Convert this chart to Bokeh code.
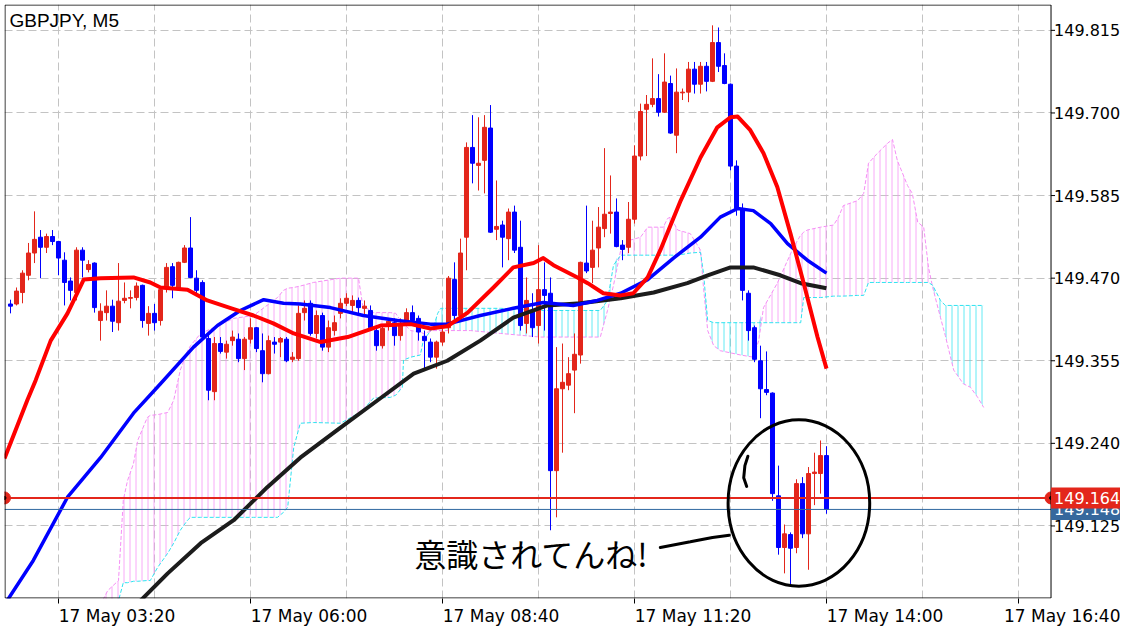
import numpy as np
from bokeh.plotting import figure
from bokeh.models import Range1d, FixedTicker, Label
from bokeh.embed import file_html
from bokeh.resources import INLINE
from bokeh.core.properties import value

# ---------------- data ----------------
symbol_title = "GBPJPY, M5"
time_ticks = [8, 40, 72, 104, 136, 168]          # bar index of labelled times
time_labels = ["17 May 03:20", "17 May 06:00", "17 May 08:40",
               "17 May 11:20", "17 May 14:00", "17 May 16:40"]
price_ticks = [149.125, 149.240, 149.355, 149.470, 149.585, 149.700, 149.815]

opens = [149.434, 149.434, 149.450, 149.474, 149.505, 149.527, 149.513, 149.528, 149.521, 149.495,
         149.466, 149.450, 149.509, 149.482, 149.491, 149.411, 149.422, 149.431, 149.408, 149.439,
         149.442, 149.443, 149.460, 149.407, 149.421, 149.411, 149.456, 149.486, 149.454, 149.492,
         149.512, 149.470, 149.464, 149.386, 149.312, 149.379, 149.367, 149.383, 149.385, 149.358,
         149.385, 149.401, 149.369, 149.337, 149.381, 149.381, 149.385, 149.357, 149.358, 149.422,
         149.435, 149.393, 149.418, 149.374, 149.397, 149.421, 149.435, 149.432, 149.439, 149.428,
         149.425, 149.397, 149.376, 149.407, 149.408, 149.390, 149.408, 149.422, 149.414, 149.389,
         149.381, 149.360, 149.381, 149.401, 149.468, 149.418, 149.527, 149.652, 149.627, 149.634,
         149.679, 149.538, 149.544, 149.525, 149.562, 149.513, 149.407, 149.425, 149.404, 149.454,
         149.449, 149.202, 149.316, 149.321, 149.342, 149.363, 149.491, 149.485, 149.512, 149.539,
         149.560, 149.562, 149.516, 149.513, 149.552, 149.640, 149.705, 149.712, 149.720, 149.701,
         149.741, 149.669, 149.728, 149.729, 149.761, 149.740, 149.765, 149.744, 149.798, 149.766,
         149.740, 149.626, 149.567, 149.449, 149.401, 149.355, 149.315, 149.310, 149.167, 149.095,
         149.113, 149.095, 149.184, 149.114, 149.198, 149.198, 149.223]
highs = [149.440, 149.457, 149.481, 149.519, 149.563, 149.537, 149.532, 149.537, 149.522, 149.506,
         149.471, 149.513, 149.513, 149.495, 149.492, 149.435, 149.453, 149.440, 149.491, 149.464,
         149.453, 149.464, 149.461, 149.431, 149.434, 149.457, 149.491, 149.491, 149.493, 149.516,
         149.555, 149.481, 149.467, 149.393, 149.388, 149.388, 149.383, 149.397, 149.393, 149.388,
         149.414, 149.402, 149.393, 149.390, 149.388, 149.388, 149.388, 149.367, 149.432, 149.439,
         149.439, 149.425, 149.422, 149.411, 149.418, 149.442, 149.449, 149.446, 149.443, 149.439,
         149.432, 149.404, 149.404, 149.414, 149.414, 149.414, 149.428, 149.432, 149.418, 149.397,
         149.386, 149.383, 149.400, 149.473, 149.492, 149.525, 149.659, 149.697, 149.694, 149.697,
         149.711, 149.606, 149.550, 149.567, 149.571, 149.550, 149.471, 149.449, 149.516, 149.492,
         149.471, 149.374, 149.379, 149.360, 149.393, 149.493, 149.571, 149.550, 149.569, 149.651,
         149.613, 149.581, 149.523, 149.576, 149.655, 149.713, 149.725, 149.776, 149.754, 149.783,
         149.752, 149.762, 149.734, 149.771, 149.771, 149.771, 149.771, 149.822, 149.819, 149.783,
         149.741, 149.634, 149.574, 149.453, 149.404, 149.376, 149.368, 149.311, 149.209, 149.127,
         149.116, 149.190, 149.193, 149.207, 149.227, 149.244, 149.236]
lows = [149.421, 149.432, 149.435, 149.467, 149.491, 149.470, 149.505, 149.516, 149.474, 149.432,
        149.439, 149.439, 149.471, 149.478, 149.422, 149.383, 149.411, 149.395, 149.397, 149.435,
        149.428, 149.439, 149.401, 149.390, 149.397, 149.404, 149.450, 149.442, 149.453, 149.491,
        149.470, 149.449, 149.386, 149.300, 149.300, 149.365, 149.358, 149.376, 149.353, 149.342,
        149.379, 149.367, 149.325, 149.336, 149.365, 149.360, 149.353, 149.353, 149.355, 149.411,
        149.390, 149.386, 149.369, 149.367, 149.390, 149.414, 149.431, 149.422, 149.418, 149.418,
        149.397, 149.369, 149.372, 149.397, 149.376, 149.383, 149.404, 149.404, 149.383, 149.342,
        149.353, 149.344, 149.376, 149.393, 149.411, 149.411, 149.481, 149.602, 149.592, 149.588,
        149.533, 149.523, 149.485, 149.495, 149.505, 149.397, 149.393, 149.388, 149.379, 149.397,
        149.119, 149.137, 149.227, 149.314, 149.282, 149.351, 149.477, 149.463, 149.485, 149.527,
        149.532, 149.513, 149.495, 149.505, 149.546, 149.634, 149.640, 149.708, 149.695, 149.700,
        149.671, 149.644, 149.718, 149.715, 149.727, 149.727, 149.730, 149.743, 149.757, 149.740,
        149.620, 149.557, 149.439, 149.383, 149.353, 149.275, 149.307, 149.160, 149.085, 149.059,
        149.042, 149.087, 149.108, 149.064, 149.154, 149.170, 149.142]
closes = [149.431, 149.452, 149.477, 149.505, 149.524, 149.513, 149.528, 149.521, 149.498, 149.464,
          149.453, 149.509, 149.495, 149.489, 149.429, 149.424, 149.431, 149.410, 149.438, 149.442,
          149.443, 149.459, 149.411, 149.421, 149.408, 149.454, 149.485, 149.460, 149.492, 149.512,
          149.471, 149.453, 149.388, 149.314, 149.379, 149.368, 149.378, 149.388, 149.358, 149.385,
          149.401, 149.372, 149.337, 149.383, 149.378, 149.386, 149.355, 149.360, 149.421, 149.428,
          149.393, 149.418, 149.374, 149.401, 149.408, 149.435, 149.442, 149.439, 149.429, 149.431,
          149.401, 149.376, 149.400, 149.410, 149.390, 149.407, 149.422, 149.411, 149.395, 149.383,
          149.360, 149.381, 149.395, 149.470, 149.418, 149.505, 149.652, 149.630, 149.630, 149.680,
          149.534, 149.542, 149.527, 149.562, 149.509, 149.404, 149.439, 149.401, 149.454, 149.446,
          149.202, 149.316, 149.325, 149.337, 149.364, 149.492, 149.480, 149.509, 149.541, 149.559,
          149.562, 149.514, 149.510, 149.552, 149.640, 149.702, 149.712, 149.720, 149.701, 149.743,
          149.672, 149.729, 149.729, 149.761, 149.740, 149.765, 149.744, 149.798, 149.765, 149.741,
          149.626, 149.567, 149.453, 149.397, 149.357, 149.316, 149.311, 149.170, 149.095, 149.114,
          149.094, 149.184, 149.114, 149.198, 149.200, 149.223, 149.148]

# moving averages (bar index, price)
ma_red_x = [-1, 2.8, 4.2, 6.7, 9.5, 12.2, 15, 20.5, 23.3, 25, 29.5, 32.8, 37.2, 40.5, 43.8, 47.2,
            51.7, 56.2, 61.7, 66.7, 70, 72.8, 76.2, 80.5, 83.8, 87.2, 88.8, 90.5, 94.5, 96.2, 98.8,
            101.7, 103.8, 106.2, 108.3, 111.7, 115, 117.8, 120, 121.2, 123.3, 125.5, 127.8, 130,
            132.2, 134.5, 136]
ma_red_y = [149.219, 149.300, 149.328, 149.383, 149.421, 149.468, 149.470, 149.471, 149.464, 149.457,
            149.454, 149.439, 149.427, 149.418, 149.407, 149.393, 149.381, 149.388, 149.404, 149.406,
            149.400, 149.403, 149.422, 149.457, 149.485, 149.491, 149.498, 149.488, 149.471, 149.463,
            149.449, 149.446, 149.449, 149.471, 149.509, 149.578, 149.638, 149.680, 149.694, 149.695,
            149.676, 149.644, 149.597, 149.532, 149.463, 149.388, 149.344]
ma_blue_x = [-0.8, 3.8, 9.5, 15, 20.5, 25, 30.5, 34.5, 38.3, 42.2, 45.5, 48.3, 53.3, 58.8, 64.5, 70,
             72.8, 78.3, 83.8, 88.8, 93.8, 97.8, 101.7, 106.2, 110.5, 115, 118.3, 121.2, 123.8,
             126.7, 129.5, 132.8, 136]
ma_blue_y = [149.018, 149.077, 149.165, 149.220, 149.282, 149.323, 149.374, 149.404, 149.425, 149.440,
             149.435, 149.434, 149.429, 149.418, 149.411, 149.406, 149.406, 149.418, 149.428, 149.436,
             149.432, 149.439, 149.449, 149.468, 149.498, 149.527, 149.555, 149.567, 149.564, 149.546,
             149.518, 149.495, 149.477]
ma_black_x = [20, 26.2, 31.7, 37.2, 42.8, 48.3, 55, 61.2, 67.2, 72.8, 78.3, 83.8, 89.5, 95, 101.7,
              107.2, 112.8, 116.2, 120, 123.8, 128.3, 131.7, 136]
ma_black_y = [149.007, 149.059, 149.101, 149.133, 149.179, 149.220, 149.262, 149.300, 149.337, 149.355,
              149.383, 149.415, 149.432, 149.435, 149.442, 149.450, 149.463, 149.474, 149.485, 149.485,
              149.474, 149.463, 149.456]

# Ichimoku spans (bar index, price)
cloud_x = [14.5, 16.2, 18, 18.8, 19.5, 20.5, 21.2, 22.8, 23.3, 24.5,
           26.2, 27.2, 28.3, 29.5, 30, 31.7, 37.2, 40.5, 44.5, 45.5,
           46.2, 47.2, 48.3, 50.5, 55, 58, 58.7, 60.5, 63.3, 64.2,
           65.3, 65.5, 66.7, 68.3, 68.8, 70.5, 71.2, 71.7, 76.7, 81.7,
           88.3, 98.3, 99.5, 100.5, 101.7, 103.3, 105, 106.2, 108.8, 109.5,
           110, 111.2, 113.3, 115, 115.5, 116.2, 117.2, 118.3, 121.7, 123.8,
           124.7, 125.5, 127.8, 130.5, 131.7, 132.2, 132.8, 135, 137.2, 138,
           138.8, 141.2, 142.2, 143, 144.5, 146.2, 147, 147.8, 149.5, 150.3,
           151.2, 152.2, 153, 153.7, 155, 155.8, 157.2, 158.8, 160, 161.2,
           162.2]
span_pink = [149.007, 149.035, 149.049, 149.161, 149.188, 149.212, 149.244, 149.276, 149.279, 149.280,
             149.283, 149.300, 149.342, 149.369, 149.376, 149.393, 149.414, 149.418, 149.443, 149.453,
             149.456, 149.457, 149.459, 149.464, 149.470, 149.470, 149.432, 149.422, 149.422, 149.421,
             149.407, 149.407, 149.397, 149.395, 149.393, 149.397, 149.397, 149.397, 149.397, 149.393,
             149.388, 149.388, 149.425, 149.460, 149.509, 149.523, 149.527, 149.541, 149.541, 149.553,
             149.555, 149.537, 149.532, 149.509, 149.457, 149.397, 149.376, 149.369, 149.363, 149.360,
             149.383, 149.429, 149.463, 149.513, 149.530, 149.534, 149.537, 149.541, 149.544, 149.555,
             149.571, 149.578, 149.588, 149.630, 149.644, 149.658, 149.663, 149.634, 149.599, 149.588,
             149.548, 149.541, 149.485, 149.457, 149.415, 149.390, 149.342, 149.323, 149.318, 149.304,
             149.290]
span_cyan = [148.966, 148.979, 149.021, 149.046, 149.046, 149.048, 149.048, 149.049, 149.049, 149.067,
             149.087, 149.101, 149.119, 149.133, 149.137, 149.137, 149.137, 149.137, 149.137, 149.144,
             149.151, 149.234, 149.268, 149.269, 149.268, 149.282, 149.286, 149.303, 149.304, 149.307,
             149.318, 149.356, 149.360, 149.363, 149.383, 149.402, 149.421, 149.428, 149.428, 149.428,
             149.425, 149.425, 149.439, 149.488, 149.502, 149.502, 149.502, 149.502, 149.502, 149.502,
             149.502, 149.502, 149.505, 149.506, 149.477, 149.411, 149.408, 149.408, 149.408, 149.408,
             149.408, 149.408, 149.408, 149.408, 149.408, 149.443, 149.443, 149.443, 149.445, 149.445,
             149.445, 149.446, 149.446, 149.464, 149.464, 149.464, 149.464, 149.464, 149.464, 149.464,
             149.464, 149.464, 149.464, 149.460, 149.439, 149.432, 149.432, 149.432, 149.432, 149.432,
             149.432]

bid_price = 149.164
last_price = 149.148

# hand-drawn annotation
note_text = "意識されてんね!"
note_pos = (67.3, 149.087)
ring_center = (131.4, 149.157)
ring_size = (23.6, 0.232)
hook_x = [122.9, 122.4, 122.2, 122.7]
hook_y = [149.222, 149.209, 149.192, 149.180]
arrow_x = [108.3, 113.3, 117.0, 119.8]
arrow_y = [149.095, 149.103, 149.109, 149.112]

# ---------------- layout / styling ----------------
UP = "#e3261b"
DOWN = "#0000ff"
PINK = "#f58ef5"
CYAN = "#2fe3f0"
GRID = "#c3c3c3"
FONT = "DejaVu Sans"

FW, FH = 1116, 594            # frame: page x 4..1120, y 4..598
BAR_PX = 6.0                  # pixels per bar
x0 = -1.0
x1 = x0 + FW / BAR_PX
y1 = 149.851
y0 = 149.024
PX_Y = (y1 - y0) / FH          # price per pixel
PX_X = 1.0 / BAR_PX            # bars per pixel

x_left = x0 + 0.5 * PX_X       # chart border lines (inside frame)
x_right = 173.42
y_top = y1 - 0.5 * PX_Y
y_bot = y0 + 0.5 * PX_Y

p = figure(frame_width=FW, frame_height=FH, output_backend="svg", toolbar_location=None,
           x_range=Range1d(x0, x1), y_range=Range1d(y0, y1), y_axis_location=None,
           min_border_left=4, min_border_top=4, min_border_right=0, min_border_bottom=0)
p.background_fill_color = "white"
p.border_fill_color = "white"
p.outline_line_color = None

# grids
p.xgrid.ticker = FixedTicker(ticks=list(range(8, 170, 16)))
p.ygrid.ticker = FixedTicker(ticks=price_ticks)
for g in (p.xgrid, p.ygrid):
    g.grid_line_color = GRID
    g.grid_line_dash = "8 4"
    g.grid_line_width = 1

# bottom time axis: labels start at their tick (MT4 style)
label_shift = 9.75
label_centers = [t + label_shift for t in time_ticks]
xa = p.xaxis[0]
xa.ticker = FixedTicker(ticks=label_centers, minor_ticks=time_ticks)
xa.major_label_overrides = {c: lab for c, lab in zip(label_centers, time_labels)}
xa.major_tick_line_color = None
xa.major_tick_out = 4
xa.major_tick_in = 0
xa.major_label_standoff = 2
xa.minor_tick_line_color = "black"
xa.minor_tick_out = 5
xa.minor_tick_in = 0
xa.axis_line_color = None
xa.major_label_text_font = FONT
xa.major_label_text_font_size = "17px"
xa.major_label_text_color = "black"

# Ichimoku cloud
sp = np.array(span_pink)
sc = np.array(span_cyan)
top = np.maximum(sp, sc)
p.varea(x=cloud_x, y1=sc, y2=top, fill_color=None, hatch_pattern="vertical_line",
        hatch_color=PINK, hatch_alpha=0.75, hatch_scale=6, hatch_weight=1)
p.varea(x=cloud_x, y1=sp, y2=top, fill_color=None, hatch_pattern="vertical_line",
        hatch_color=CYAN, hatch_alpha=0.75, hatch_scale=6, hatch_weight=1)
p.line(cloud_x, span_pink, line_color=PINK, line_width=1, line_dash="4 2")
p.line(cloud_x, span_cyan, line_color=CYAN, line_width=1, line_dash="4 2")

# candles
o = np.array(opens); h = np.array(highs); l = np.array(lows); c = np.array(closes)
idx = np.arange(len(o))
cols = [UP if cc >= oo else DOWN for oo, cc in zip(o, c)]
p.segment(x0=idx, x1=idx, y0=h, y1=l, line_color=cols, line_width=1)
p.vbar(x=idx, width=0.67, top=np.maximum(o, c), bottom=np.minimum(o, c),
       fill_color=cols, line_color=cols, line_width=1)

# moving averages
p.line(ma_black_x, ma_black_y, line_color="#1c1c1c", line_width=4, line_join="round")
p.line(ma_blue_x, ma_blue_y, line_color="#0000ff", line_width=3.5, line_join="round")
p.line(ma_red_x, ma_red_y, line_color="#ff0000", line_width=4, line_join="round")

# price lines + end markers
p.segment(x0=[x0], x1=[x_right], y0=[last_price], y1=[last_price], line_color="#2f68a0", line_width=1)
p.segment(x0=[x0], x1=[x_right], y0=[bid_price], y1=[bid_price], line_color=UP, line_width=2)
p.scatter(x=[x0, x_right], y=[bid_price, bid_price], size=12, fill_color=UP, line_color=UP)
p.scatter(x=[x0, x_right], y=[bid_price, bid_price], size=3, fill_color="black", line_color="black")

# hand-drawn annotation
p.ellipse(x=ring_center[0], y=ring_center[1], width=ring_size[0], height=ring_size[1],
          fill_color=None, line_color="black", line_width=3)
p.line(hook_x, hook_y, line_color="black", line_width=3, line_cap="round")
p.line(arrow_x, arrow_y, line_color="black", line_width=3, line_cap="round")

# price scale panel (right of the chart)
p.quad(left=[x_right + 0.5 * PX_X], right=[x1], bottom=[y0], top=[y1],
       fill_color="white", line_color=None)
p.segment(x0=[x_left, x_left, x_right, x_left], x1=[x_left, x_right, x_right, x_right],
          y0=[y_bot, y_top, y_bot, y_bot], y1=[y_top, y_top, y_top, y_bot],
          line_color="black", line_width=1)
p.segment(x0=[x_right] * len(price_ticks), x1=[x_right + 4 * PX_X] * len(price_ticks),
          y0=price_ticks, y1=price_ticks, line_color="black", line_width=1)
p.text(x=[x_right + 3 * PX_X] * len(price_ticks), y=price_ticks,
       text=["%.3f" % v for v in price_ticks], text_align="left", text_baseline="middle",
       text_font=value(FONT), text_font_size="16px", text_color="black")

box_half = 10.5 * PX_Y
for price, col in ((last_price, "#36689d"), (bid_price, UP)):
    p.quad(left=[x_right], right=[x1], bottom=[price - box_half], top=[price + box_half],
           fill_color=col, line_color=None)
    p.text(x=[x_right + 3 * PX_X], y=[price], text=["%.3f" % price], text_align="left",
           text_baseline="middle", text_font=value(FONT), text_font_size="16px",
           text_color="white")

# texts inside the chart
p.add_layout(Label(x=note_pos[0], y=note_pos[1], text=note_text, text_align="left",
                   text_baseline="middle", text_font="Noto Sans CJK JP",
                   text_font_size="32px", text_color="black"))
p.add_layout(Label(x=x0, y=y1, x_offset=5, y_offset=-5, text=symbol_title, text_align="left",
                   text_baseline="top", text_font="Liberation Sans", text_font_size="19px",
                   text_color="black"))

open("out.html", "w").write(file_html(p, INLINE))
